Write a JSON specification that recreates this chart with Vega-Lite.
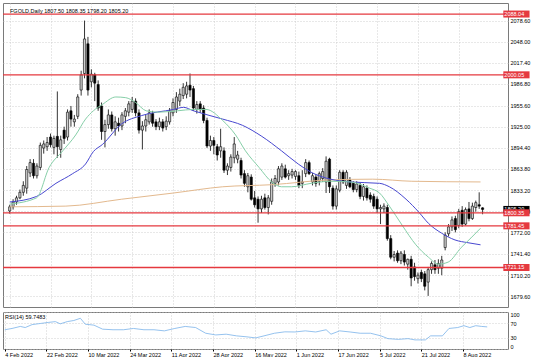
{
  "$schema": "https://vega.github.io/schema/vega-lite/v6.json",
  "background": "white",
  "padding": {"left": 1, "top": 2, "right": 0, "bottom": 0},
  "spacing": 3,
  "config": {
    "font": "Liberation Sans",
    "view": {"stroke": "#7a7a7a", "strokeWidth": 1},
    "axis": {"labelFont": "Liberation Sans", "labelFontSize": 5.5, "labelColor": "#000", "gridColor": "#c4c4c4", "gridDash": [1, 2], "gridWidth": 0.8, "domain": false, "ticks": false, "title": null, "labelOverlap": false, "labelSeparation": 0}
  },
  "datasets": {
    "candles": [
      {"i":0,"o":1803,"h":1812,"l":1799,"c":1809},{"i":1,"o":1809,"h":1820,"l":1805,"c":1816},{"i":2,"o":1816,"h":1825,"l":1812,"c":1822},{"i":3,"o":1822,"h":1834,"l":1820,"c":1830},{"i":4,"o":1830,"h":1846,"l":1825,"c":1840},
      {"i":5,"o":1836,"h":1868,"l":1828,"c":1863},{"i":6,"o":1858,"h":1878,"l":1852,"c":1873},{"i":7,"o":1872,"h":1878,"l":1850,"c":1854},{"i":8,"o":1854,"h":1872,"l":1850,"c":1868},{"i":9,"o":1866,"h":1902,"l":1862,"c":1898},
      {"i":10,"o":1894,"h":1905,"l":1886,"c":1900},{"i":11,"o":1896,"h":1910,"l":1890,"c":1902},{"i":12,"o":1910,"h":1915,"l":1895,"c":1899},{"i":13,"o":1895,"h":1912,"l":1885,"c":1908},{"i":14,"o":1911,"h":1976,"l":1880,"c":1896},
      {"i":15,"o":1892,"h":1912,"l":1880,"c":1906},{"i":16,"o":1920,"h":1925,"l":1900,"c":1908},{"i":17,"o":1910,"h":1950,"l":1905,"c":1946},{"i":18,"o":1948,"h":1955,"l":1925,"c":1936},{"i":19,"o":1932,"h":1942,"l":1925,"c":1936},
      {"i":20,"o":1940,"h":1972,"l":1936,"c":1968},{"i":21,"o":1978,"h":2006,"l":1970,"c":2000},{"i":22,"o":2002,"h":2078.6,"l":1995,"c":2052},{"i":23,"o":2045,"h":2055,"l":1970,"c":1978},{"i":24,"o":1990,"h":2008,"l":1982,"c":2001},
      {"i":25,"o":2000,"h":2003,"l":1962,"c":1988},{"i":26,"o":1986,"h":1992,"l":1948,"c":1952},{"i":27,"o":1955,"h":1960,"l":1906,"c":1918},{"i":28,"o":1918,"h":1935,"l":1895,"c":1928},{"i":29,"o":1928,"h":1950,"l":1922,"c":1942},
      {"i":30,"o":1942,"h":1947,"l":1918,"c":1922},{"i":31,"o":1922,"h":1940,"l":1912,"c":1932},{"i":32,"o":1930,"h":1938,"l":1918,"c":1926},{"i":33,"o":1926,"h":1946,"l":1920,"c":1942},{"i":34,"o":1940,"h":1952,"l":1930,"c":1948},
      {"i":35,"o":1946,"h":1962,"l":1940,"c":1958},{"i":36,"o":1950,"h":1968,"l":1945,"c":1962},{"i":37,"o":1962,"h":1966,"l":1940,"c":1945},{"i":38,"o":1945,"h":1950,"l":1915,"c":1920},{"i":39,"o":1920,"h":1933,"l":1892,"c":1926},
      {"i":40,"o":1926,"h":1942,"l":1918,"c":1935},{"i":41,"o":1932,"h":1950,"l":1928,"c":1945},{"i":42,"o":1944,"h":1948,"l":1925,"c":1930},{"i":43,"o":1932,"h":1936,"l":1920,"c":1925},{"i":44,"o":1925,"h":1938,"l":1920,"c":1932},
      {"i":45,"o":1932,"h":1936,"l":1918,"c":1923},{"i":46,"o":1925,"h":1940,"l":1920,"c":1933},{"i":47,"o":1932,"h":1952,"l":1928,"c":1948},{"i":48,"o":1945,"h":1966,"l":1940,"c":1960},{"i":49,"o":1950,"h":1975,"l":1945,"c":1968},
      {"i":50,"o":1962,"h":1980,"l":1955,"c":1972},{"i":51,"o":1970,"h":1988,"l":1965,"c":1982},{"i":52,"o":1972,"h":1990,"l":1966,"c":1984},{"i":53,"o":1985,"h":2002,"l":1968,"c":1978},{"i":54,"o":1980,"h":1984,"l":1948,"c":1952},
      {"i":55,"o":1950,"h":1962,"l":1944,"c":1957},{"i":56,"o":1958,"h":1962,"l":1945,"c":1950},{"i":57,"o":1952,"h":1956,"l":1930,"c":1934},{"i":58,"o":1934,"h":1938,"l":1894,"c":1897},{"i":59,"o":1897,"h":1912,"l":1890,"c":1905},
      {"i":60,"o":1905,"h":1910,"l":1885,"c":1898},{"i":61,"o":1896,"h":1900,"l":1876,"c":1884},{"i":62,"o":1890,"h":1922,"l":1880,"c":1896},{"i":63,"o":1890,"h":1895,"l":1858,"c":1862},{"i":64,"o":1862,"h":1872,"l":1855,"c":1868},
      {"i":65,"o":1866,"h":1885,"l":1860,"c":1881},{"i":66,"o":1880,"h":1910,"l":1872,"c":1900},{"i":67,"o":1878,"h":1890,"l":1872,"c":1884},{"i":68,"o":1876,"h":1880,"l":1850,"c":1855},{"i":69,"o":1857,"h":1862,"l":1838,"c":1843},
      {"i":70,"o":1838,"h":1858,"l":1830,"c":1854},{"i":71,"o":1852,"h":1856,"l":1818,"c":1820},{"i":72,"o":1822,"h":1832,"l":1808,"c":1812},{"i":73,"o":1820,"h":1824,"l":1786,"c":1806},{"i":74,"o":1806,"h":1825,"l":1800,"c":1820},
      {"i":75,"o":1822,"h":1828,"l":1805,"c":1808},{"i":76,"o":1808,"h":1826,"l":1798,"c":1822},{"i":77,"o":1817,"h":1850,"l":1812,"c":1845},{"i":78,"o":1843,"h":1855,"l":1838,"c":1850},{"i":79,"o":1845,"h":1868,"l":1840,"c":1864},
      {"i":80,"o":1852,"h":1872,"l":1848,"c":1868},{"i":81,"o":1864,"h":1870,"l":1850,"c":1852},{"i":82,"o":1854,"h":1862,"l":1848,"c":1857},{"i":83,"o":1855,"h":1864,"l":1850,"c":1860},{"i":84,"o":1853,"h":1862,"l":1848,"c":1860},
      {"i":85,"o":1854,"h":1860,"l":1836,"c":1840},{"i":86,"o":1843,"h":1862,"l":1836,"c":1845},{"i":87,"o":1857,"h":1878,"l":1852,"c":1873},{"i":88,"o":1873,"h":1876,"l":1855,"c":1857},{"i":89,"o":1845,"h":1858,"l":1840,"c":1854},
      {"i":90,"o":1852,"h":1856,"l":1838,"c":1843},{"i":91,"o":1846,"h":1860,"l":1840,"c":1857},{"i":92,"o":1850,"h":1865,"l":1845,"c":1860},{"i":93,"o":1845,"h":1882,"l":1829,"c":1875},{"i":94,"o":1878,"h":1880,"l":1829,"c":1838},
      {"i":95,"o":1836,"h":1840,"l":1805,"c":1810},{"i":96,"o":1810,"h":1840,"l":1805,"c":1835},{"i":97,"o":1833,"h":1862,"l":1830,"c":1859},{"i":98,"o":1859,"h":1862,"l":1842,"c":1845},{"i":99,"o":1840,"h":1862,"l":1835,"c":1859},
      {"i":100,"o":1848,"h":1852,"l":1836,"c":1838},{"i":101,"o":1843,"h":1846,"l":1830,"c":1834},{"i":102,"o":1834,"h":1846,"l":1830,"c":1842},{"i":103,"o":1840,"h":1844,"l":1820,"c":1824},{"i":104,"o":1824,"h":1842,"l":1818,"c":1838},
      {"i":105,"o":1836,"h":1840,"l":1818,"c":1822},{"i":106,"o":1826,"h":1830,"l":1815,"c":1820},{"i":107,"o":1824,"h":1828,"l":1806,"c":1810},{"i":108,"o":1820,"h":1824,"l":1800,"c":1806},{"i":109,"o":1806,"h":1812,"l":1784,"c":1808},
      {"i":110,"o":1806,"h":1814,"l":1800,"c":1810},{"i":111,"o":1808,"h":1812,"l":1760,"c":1763},{"i":112,"o":1763,"h":1768,"l":1733,"c":1736},{"i":113,"o":1736,"h":1745,"l":1730,"c":1740},{"i":114,"o":1742,"h":1746,"l":1728,"c":1731},
      {"i":115,"o":1731,"h":1745,"l":1726,"c":1742},{"i":116,"o":1740,"h":1746,"l":1724,"c":1729},{"i":117,"o":1726,"h":1734,"l":1718,"c":1733},{"i":118,"o":1733,"h":1738,"l":1694,"c":1706},{"i":119,"o":1722,"h":1728,"l":1702,"c":1708},
      {"i":120,"o":1705,"h":1714,"l":1698,"c":1710},{"i":121,"o":1714,"h":1718,"l":1700,"c":1705},{"i":122,"o":1712,"h":1716,"l":1688,"c":1694},{"i":123,"o":1700,"h":1722,"l":1680,"c":1718},{"i":124,"o":1718,"h":1730,"l":1712,"c":1727},
      {"i":125,"o":1725,"h":1732,"l":1712,"c":1718},{"i":126,"o":1720,"h":1733,"l":1712,"c":1727},{"i":127,"o":1720,"h":1738,"l":1710,"c":1732},{"i":128,"o":1750,"h":1772,"l":1746,"c":1768},{"i":129,"o":1770,"h":1784,"l":1766,"c":1780},
      {"i":130,"o":1780,"h":1795,"l":1774,"c":1790},{"i":131,"o":1792,"h":1796,"l":1772,"c":1776},{"i":132,"o":1782,"h":1806,"l":1778,"c":1802},{"i":133,"o":1804,"h":1810,"l":1780,"c":1784},{"i":134,"o":1784,"h":1808,"l":1782,"c":1805},
      {"i":135,"o":1806,"h":1816,"l":1788,"c":1792},{"i":136,"o":1792,"h":1815,"l":1790,"c":1810},{"i":137,"o":1808,"h":1818,"l":1802,"c":1815},{"i":138,"o":1812,"h":1830,"l":1806,"c":1810},{"i":139,"o":1807.5,"h":1808.35,"l":1798.2,"c":1805.2}
    ],
    "levels": [{"level":2088.04,"lbl":"2088.04"},{"level":2000.05,"lbl":"2000.05"},{"level":1800.35,"lbl":"1800.35"},{"level":1781.45,"lbl":"1781.45"},{"level":1721.15,"lbl":"1721.15"}],
    "last": [{"level":1805.2,"lbl":"1805.20"}],
    "header": [{"i":-0.5,"p":2092.6,"txt":"FGOLD,Daily  1807.50 1808.35 1798.20 1805.20"}],
    "rsiHeader": [{"i":-0.5,"v":86,"txt":"RSI(14) 59.7483"}],
    "maFast": [
      {"i":0,"v":1813},{"i":7.9,"v":1822},{"i":11.6,"v":1866},{"i":15.6,"v":1890},{"i":19.4,"v":1913},{"i":22.3,"v":1936},{"i":24.6,"v":1948},{"i":27.2,"v":1957},{"i":31.2,"v":1968},{"i":34.1,"v":1967},{"i":37,"v":1960},{"i":40.1,"v":1948},{"i":43.6,"v":1946},{"i":49.4,"v":1948},{"i":54,"v":1950},{"i":57.7,"v":1950},{"i":62.6,"v":1934},{"i":66.4,"v":1913},{"i":69.3,"v":1890},{"i":73.3,"v":1866},{"i":77,"v":1845},{"i":79.9,"v":1838},{"i":82.8,"v":1838},{"i":88.6,"v":1843},{"i":94.3,"v":1846},{"i":100.1,"v":1845},{"i":105.8,"v":1836},{"i":108.7,"v":1829},{"i":111.6,"v":1810},{"i":115.4,"v":1782},{"i":119.4,"v":1754},{"i":123.1,"v":1736},{"i":126,"v":1726},{"i":128.9,"v":1729},{"i":132.7,"v":1750},{"i":135.6,"v":1764},{"i":138.4,"v":1778}
    ],
    "maMid": [
      {"i":0,"v":1816},{"i":7.9,"v":1824},{"i":13.6,"v":1843},{"i":18.5,"v":1857},{"i":22.3,"v":1871},{"i":24.6,"v":1889},{"i":27.2,"v":1899},{"i":32.9,"v":1929},{"i":38.7,"v":1941},{"i":48.2,"v":1950},{"i":51.1,"v":1953},{"i":54,"v":1948},{"i":62.6,"v":1936},{"i":68.4,"v":1927},{"i":74.1,"v":1911},{"i":79.9,"v":1890},{"i":84.8,"v":1871},{"i":88.6,"v":1859},{"i":94.3,"v":1849},{"i":100.1,"v":1845},{"i":108.7,"v":1843},{"i":111.6,"v":1838},{"i":116.5,"v":1820},{"i":120.3,"v":1801},{"i":123.1,"v":1785},{"i":126.9,"v":1771},{"i":130.9,"v":1761},{"i":134.7,"v":1757},{"i":138.4,"v":1754}
    ],
    "maSlow": [
      {"i":0,"v":1809},{"i":16.5,"v":1810},{"i":32.9,"v":1820},{"i":48.2,"v":1829},{"i":62.6,"v":1838},{"i":77,"v":1841},{"i":94.3,"v":1848},{"i":106.7,"v":1849},{"i":118.2,"v":1846},{"i":138.4,"v":1845}
    ],
    "rsi": [
      {"i":0,"v":52},{"i":2.1,"v":55.5},{"i":4.5,"v":61},{"i":5.9,"v":58},{"i":7.9,"v":66},{"i":10.3,"v":69},{"i":12.7,"v":72},{"i":14.6,"v":74},{"i":16,"v":68},{"i":18,"v":74},{"i":19.9,"v":77},{"i":21.8,"v":83},{"i":23.2,"v":67},{"i":25.7,"v":64.5},{"i":28.2,"v":53.6},{"i":31.2,"v":52},{"i":34.2,"v":52},{"i":37.1,"v":55.5},{"i":40.1,"v":52},{"i":43,"v":52},{"i":46,"v":49},{"i":49,"v":55.5},{"i":52,"v":61},{"i":55,"v":58},{"i":57.9,"v":42.6},{"i":60.8,"v":38},{"i":63.8,"v":40},{"i":66.8,"v":35.5},{"i":69.8,"v":32.8},{"i":72.3,"v":30},{"i":74.7,"v":35.5},{"i":77.7,"v":42.6},{"i":80.7,"v":46.4},{"i":83.6,"v":46},{"i":86.6,"v":49},{"i":89.6,"v":46},{"i":92.6,"v":52},{"i":94,"v":40},{"i":96.5,"v":49},{"i":99.5,"v":46},{"i":102.4,"v":42.6},{"i":105.4,"v":42.6},{"i":108.4,"v":35.5},{"i":110.4,"v":28},{"i":113.4,"v":26},{"i":116.2,"v":28},{"i":118.2,"v":24.6},{"i":121.2,"v":24.6},{"i":122.7,"v":35.5},{"i":126.1,"v":35.5},{"i":128,"v":55.5},{"i":130.5,"v":58},{"i":132.3,"v":63},{"i":134,"v":58},{"i":135.7,"v":63},{"i":137.4,"v":61},{"i":139,"v":59.7483}
    ]
  },
  "vconcat": [
    {
      "width": 505,
      "height": 304,
      "layer": [
        {
          "data": {"name": "candles"},
          "mark": {"type": "rule", "color": "#000", "strokeWidth": 0.8},
          "encoding": {
            "x": {"field": "i", "type": "quantitative", "scale": {"domain": [-0.5, 145], "nice": false, "zero": false}, "axis": {"values": [0, 12, 24, 36, 48, 60, 72, 84, 96, 108, 120, 132], "labels": false, "grid": true}},
            "y": {"field": "l", "type": "quantitative", "scale": {"domain": [1671.2, 2096.8], "nice": false, "zero": false}, "axis": {"orient": "right", "values": [1679.6, 1710.2, 1741.4, 1772, 1802.6, 1833.2, 1863.8, 1894.4, 1925, 1955.6, 1986.8, 2017.4, 2048, 2078.6], "format": ".2f", "grid": true, "labelAlign": "left", "labelPadding": 2, "labelBaseline": "middle", "labelOverlap": false, "labelSeparation": 0, "labelBound": false}},
            "y2": {"field": "h"}
          }
        },
        {
          "data": {"name": "candles"},
          "mark": {"type": "bar", "width": 2.2, "stroke": "#000", "strokeWidth": 0.6},
          "encoding": {
            "x": {"field": "i", "type": "quantitative", "scale": {"domain": [-0.5, 145], "nice": false, "zero": false}, "axis": {"values": [0, 12, 24, 36, 48, 60, 72, 84, 96, 108, 120, 132], "labels": false, "grid": true}},
            "y": {"field": "o", "type": "quantitative", "scale": {"domain": [1671.2, 2096.8], "nice": false, "zero": false}, "axis": {"orient": "right", "values": [1679.6, 1710.2, 1741.4, 1772, 1802.6, 1833.2, 1863.8, 1894.4, 1925, 1955.6, 1986.8, 2017.4, 2048, 2078.6], "format": ".2f", "grid": true, "labelAlign": "left", "labelPadding": 2, "labelBaseline": "middle", "labelOverlap": false, "labelSeparation": 0, "labelBound": false}},
            "y2": {"field": "c"},
            "fill": {"condition": {"test": "datum.c >= datum.o", "value": "#cfcfcf"}, "value": "#000"}
          }
        },
        {
          "data": {"name": "maSlow"},
          "mark": {"type": "line", "color": "#e3b98e", "strokeWidth": 1, "interpolate": "monotone"},
          "encoding": {
            "x": {"field": "i", "type": "quantitative", "scale": {"domain": [-0.5, 145], "nice": false, "zero": false}, "axis": {"values": [0, 12, 24, 36, 48, 60, 72, 84, 96, 108, 120, 132], "labels": false, "grid": true}},
            "y": {"field": "v", "type": "quantitative", "scale": {"domain": [1671.2, 2096.8], "nice": false, "zero": false}, "axis": {"orient": "right", "values": [1679.6, 1710.2, 1741.4, 1772, 1802.6, 1833.2, 1863.8, 1894.4, 1925, 1955.6, 1986.8, 2017.4, 2048, 2078.6], "format": ".2f", "grid": true, "labelAlign": "left", "labelPadding": 2, "labelBaseline": "middle", "labelOverlap": false, "labelSeparation": 0, "labelBound": false}}
          }
        },
        {
          "data": {"name": "maMid"},
          "mark": {"type": "line", "color": "#4848d0", "strokeWidth": 1, "interpolate": "monotone"},
          "encoding": {
            "x": {"field": "i", "type": "quantitative", "scale": {"domain": [-0.5, 145], "nice": false, "zero": false}, "axis": {"values": [0, 12, 24, 36, 48, 60, 72, 84, 96, 108, 120, 132], "labels": false, "grid": true}},
            "y": {"field": "v", "type": "quantitative", "scale": {"domain": [1671.2, 2096.8], "nice": false, "zero": false}, "axis": {"orient": "right", "values": [1679.6, 1710.2, 1741.4, 1772, 1802.6, 1833.2, 1863.8, 1894.4, 1925, 1955.6, 1986.8, 2017.4, 2048, 2078.6], "format": ".2f", "grid": true, "labelAlign": "left", "labelPadding": 2, "labelBaseline": "middle", "labelOverlap": false, "labelSeparation": 0, "labelBound": false}}
          }
        },
        {
          "data": {"name": "maFast"},
          "mark": {"type": "line", "color": "#86cfa8", "strokeWidth": 1, "interpolate": "monotone"},
          "encoding": {
            "x": {"field": "i", "type": "quantitative", "scale": {"domain": [-0.5, 145], "nice": false, "zero": false}, "axis": {"values": [0, 12, 24, 36, 48, 60, 72, 84, 96, 108, 120, 132], "labels": false, "grid": true}},
            "y": {"field": "v", "type": "quantitative", "scale": {"domain": [1671.2, 2096.8], "nice": false, "zero": false}, "axis": {"orient": "right", "values": [1679.6, 1710.2, 1741.4, 1772, 1802.6, 1833.2, 1863.8, 1894.4, 1925, 1955.6, 1986.8, 2017.4, 2048, 2078.6], "format": ".2f", "grid": true, "labelAlign": "left", "labelPadding": 2, "labelBaseline": "middle", "labelOverlap": false, "labelSeparation": 0, "labelBound": false}}
          }
        },
        {
          "data": {"name": "levels"},
          "mark": {"type": "rule", "color": "#e5393f", "strokeWidth": 1.3},
          "encoding": {
            "y": {"field": "level", "type": "quantitative", "scale": {"domain": [1671.2, 2096.8], "nice": false, "zero": false}, "axis": {"orient": "right", "values": [1679.6, 1710.2, 1741.4, 1772, 1802.6, 1833.2, 1863.8, 1894.4, 1925, 1955.6, 1986.8, 2017.4, 2048, 2078.6], "format": ".2f", "grid": true, "labelAlign": "left", "labelPadding": 2, "labelBaseline": "middle", "labelOverlap": false, "labelSeparation": 0, "labelBound": false}}
          }
        },
        {
          "data": {"name": "header"},
          "mark": {"type": "text", "align": "left", "baseline": "middle", "fill": "#000", "fontSize": 5.5, "dx": 2},
          "encoding": {
            "x": {"field": "i", "type": "quantitative", "scale": {"domain": [-0.5, 145], "nice": false, "zero": false}, "axis": {"values": [0, 12, 24, 36, 48, 60, 72, 84, 96, 108, 120, 132], "labels": false, "grid": true}},
            "y": {"field": "p", "type": "quantitative", "scale": {"domain": [1671.2, 2096.8], "nice": false, "zero": false}, "axis": {"orient": "right", "values": [1679.6, 1710.2, 1741.4, 1772, 1802.6, 1833.2, 1863.8, 1894.4, 1925, 1955.6, 1986.8, 2017.4, 2048, 2078.6], "format": ".2f", "grid": true, "labelAlign": "left", "labelPadding": 2, "labelBaseline": "middle", "labelOverlap": false, "labelSeparation": 0, "labelBound": false}},
            "text": {"field": "txt"}
          }
        },
        {
          "data": {"name": "last"},
          "mark": {"type": "bar", "height": 7, "fill": "#000"},
          "encoding": {
            "x": {"datum": 145.1, "type": "quantitative", "scale": {"domain": [-0.5, 145], "nice": false, "zero": false}, "axis": {"values": [0, 12, 24, 36, 48, 60, 72, 84, 96, 108, 120, 132], "labels": false, "grid": true}},
            "x2": {"datum": 152.8},
            "y": {"field": "level", "type": "quantitative", "scale": {"domain": [1671.2, 2096.8], "nice": false, "zero": false}, "axis": {"orient": "right", "values": [1679.6, 1710.2, 1741.4, 1772, 1802.6, 1833.2, 1863.8, 1894.4, 1925, 1955.6, 1986.8, 2017.4, 2048, 2078.6], "format": ".2f", "grid": true, "labelAlign": "left", "labelPadding": 2, "labelBaseline": "middle", "labelOverlap": false, "labelSeparation": 0, "labelBound": false}}
          }
        },
        {
          "data": {"name": "last"},
          "mark": {"type": "text", "align": "left", "baseline": "middle", "fill": "#fff", "fontSize": 5.5},
          "encoding": {
            "x": {"datum": 145.4, "type": "quantitative", "scale": {"domain": [-0.5, 145], "nice": false, "zero": false}, "axis": {"values": [0, 12, 24, 36, 48, 60, 72, 84, 96, 108, 120, 132], "labels": false, "grid": true}},
            "y": {"field": "level", "type": "quantitative", "scale": {"domain": [1671.2, 2096.8], "nice": false, "zero": false}, "axis": {"orient": "right", "values": [1679.6, 1710.2, 1741.4, 1772, 1802.6, 1833.2, 1863.8, 1894.4, 1925, 1955.6, 1986.8, 2017.4, 2048, 2078.6], "format": ".2f", "grid": true, "labelAlign": "left", "labelPadding": 2, "labelBaseline": "middle", "labelOverlap": false, "labelSeparation": 0, "labelBound": false}},
            "text": {"field": "lbl"}
          }
        },
        {
          "data": {"name": "levels"},
          "mark": {"type": "bar", "height": 7, "fill": "#e5393f"},
          "encoding": {
            "x": {"datum": 145.1, "type": "quantitative", "scale": {"domain": [-0.5, 145], "nice": false, "zero": false}, "axis": {"values": [0, 12, 24, 36, 48, 60, 72, 84, 96, 108, 120, 132], "labels": false, "grid": true}},
            "x2": {"datum": 152.8},
            "y": {"field": "level", "type": "quantitative", "scale": {"domain": [1671.2, 2096.8], "nice": false, "zero": false}, "axis": {"orient": "right", "values": [1679.6, 1710.2, 1741.4, 1772, 1802.6, 1833.2, 1863.8, 1894.4, 1925, 1955.6, 1986.8, 2017.4, 2048, 2078.6], "format": ".2f", "grid": true, "labelAlign": "left", "labelPadding": 2, "labelBaseline": "middle", "labelOverlap": false, "labelSeparation": 0, "labelBound": false}}
          }
        },
        {
          "data": {"name": "levels"},
          "mark": {"type": "text", "align": "left", "baseline": "middle", "fill": "#fff", "fontSize": 5.5},
          "encoding": {
            "x": {"datum": 145.4, "type": "quantitative", "scale": {"domain": [-0.5, 145], "nice": false, "zero": false}, "axis": {"values": [0, 12, 24, 36, 48, 60, 72, 84, 96, 108, 120, 132], "labels": false, "grid": true}},
            "y": {"field": "level", "type": "quantitative", "scale": {"domain": [1671.2, 2096.8], "nice": false, "zero": false}, "axis": {"orient": "right", "values": [1679.6, 1710.2, 1741.4, 1772, 1802.6, 1833.2, 1863.8, 1894.4, 1925, 1955.6, 1986.8, 2017.4, 2048, 2078.6], "format": ".2f", "grid": true, "labelAlign": "left", "labelPadding": 2, "labelBaseline": "middle", "labelOverlap": false, "labelSeparation": 0, "labelBound": false}},
            "text": {"field": "lbl"}
          }
        }
      ]
    },
    {
      "width": 505,
      "height": 37,
      "layer": [
        {
          "data": {"name": "rsi"},
          "mark": {"type": "line", "color": "#7ab2ea", "strokeWidth": 0.8},
          "encoding": {
            "x": {"field": "i", "type": "quantitative", "scale": {"domain": [-0.5, 145], "nice": false, "zero": false}, "axis": {"values": [0, 12, 24, 36, 48, 60, 72, 84, 96, 108, 120, 132], "labelExpr": "['4 Feb 2022','22 Feb 2022','10 Mar 2022','24 Mar 2022','11 Apr 2022','28 Apr 2022','16 May 2022','1 Jun 2022','17 Jun 2022','5 Jul 2022','21 Jul 2022','8 Aug 2022'][round(datum.value/12)]", "labelAlign": "left", "grid": true, "ticks": true, "tickSize": 2, "tickColor": "#000", "labelPadding": 1, "labelFlush": false, "labelOverlap": false}},
            "y": {"field": "v", "type": "quantitative", "scale": {"domain": [0, 100], "nice": false, "zero": false}, "axis": {"orient": "right", "values": [0, 30, 70, 100], "grid": true, "labelFlush": true, "labelAlign": "left", "labelPadding": 2, "labelOverlap": false, "labelSeparation": 0}}
          }
        },
        {
          "data": {"name": "rsiHeader"},
          "mark": {"type": "text", "align": "left", "baseline": "middle", "fill": "#000", "fontSize": 5.5, "dx": 2},
          "encoding": {
            "x": {"field": "i", "type": "quantitative", "scale": {"domain": [-0.5, 145], "nice": false, "zero": false}, "axis": {"values": [0, 12, 24, 36, 48, 60, 72, 84, 96, 108, 120, 132], "labelExpr": "['4 Feb 2022','22 Feb 2022','10 Mar 2022','24 Mar 2022','11 Apr 2022','28 Apr 2022','16 May 2022','1 Jun 2022','17 Jun 2022','5 Jul 2022','21 Jul 2022','8 Aug 2022'][round(datum.value/12)]", "labelAlign": "left", "grid": true, "ticks": true, "tickSize": 2, "tickColor": "#000", "labelPadding": 1, "labelFlush": false, "labelOverlap": false}},
            "y": {"field": "v", "type": "quantitative", "scale": {"domain": [0, 100], "nice": false, "zero": false}, "axis": {"orient": "right", "values": [0, 30, 70, 100], "grid": true, "labelFlush": true, "labelAlign": "left", "labelPadding": 2, "labelOverlap": false, "labelSeparation": 0}},
            "text": {"field": "txt"}
          }
        }
      ]
    }
  ]
}
